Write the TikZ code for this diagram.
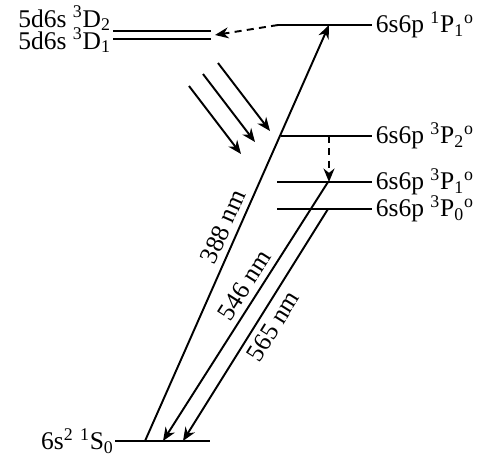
\documentclass[tikz,border=0pt]{standalone}
\usepackage{fontspec}
\setmainfont{Liberation Serif}
\usetikzlibrary{arrows.meta}

\newcommand{\term}[3]{\textsuperscript{#1}#2\textsubscript{#3}}

\begin{document}
\begin{tikzpicture}[x=0.02cm,y=-0.02cm,font=\fontsize{14.5}{16}\selectfont,
  lvl/.style={line width=1.4pt},
  tr/.style={line width=1.1pt,-{Stealth[length=2.7mm,width=2.2mm]}},
  dtr/.style={tr,dash pattern=on 4pt off 3pt}]
  \useasboundingbox (0,0) rectangle (494,461);
  % levels: name/left/right/height
  \foreach \n/\a/\b/\y in {P1/278/372/25,Pt/281/372/136,Po/277/372/182,Pz/277/372/209,G/115/210/441,Dt/113/211/31,Do/113/211/39}{
    \coordinate (\n-l) at (\a,\y); \coordinate (\n-r) at (\b,\y);
    \draw[lvl] (\n-l) -- (\n-r);}
  \node[anchor=west,inner sep=2pt] (lP1) at (P1-r) {6s6p \term{1}{P}{1}\textsuperscript{o}};
  \node[anchor=west,inner sep=2pt] (lPt) at (Pt-r) {6s6p \term{3}{P}{2}\textsuperscript{o}};
  \node[anchor=west,inner sep=2pt] (lPo) at (Po-r) {6s6p \term{3}{P}{1}\textsuperscript{o}};
  \node[anchor=west,inner sep=2pt] (lPz) at (Pz-r) {6s6p \term{3}{P}{0}\textsuperscript{o}};
  \node[anchor=base east,inner sep=1pt] (lDt) at (113,27) {5d6s \term{3}{D}{2}};
  \node[anchor=base east,inner sep=1pt] (lDo) at (113,49) {5d6s \term{3}{D}{1}};
  \node[anchor=east,inner sep=0.5pt] (lG) at (G-l) {6s\textsuperscript{2} \term{1}{S}{0}};
  % transitions
  \coordinate (D-r) at (215,35);
  \draw[dtr] (P1-l) -- (D-r);
  \coordinate (a388) at (145,441); \coordinate (b388) at (329,25);
  \coordinate (a546) at (328,182); \coordinate (b546) at (163,441);
  \coordinate (a565) at (328,209); \coordinate (b565) at (183,441);
  \coordinate (aPt) at (329,136); \coordinate (bPt) at (329,182);
  \draw[tr] (a388) -- node[sloped,above=0pt,pos=0.5] (l388) {388 nm} (b388);
  \draw[tr] (a546) -- node[sloped,above=0pt,pos=0.43] (l546) {546 nm} (b546);
  \draw[tr] (a565) -- node[sloped,below=0pt,pos=0.47] (l565) {565 nm} (b565);
  \draw[dtr] (aPt) -- (bPt);
  \foreach \x/\y [count=\i] in {189/86,203/74,218/63}{
    \path (\x,\y) coordinate (s\i) ++(52,68) coordinate (e\i);
    \draw[tr] (s\i) -- (e\i);}
\end{tikzpicture}
\end{document}
